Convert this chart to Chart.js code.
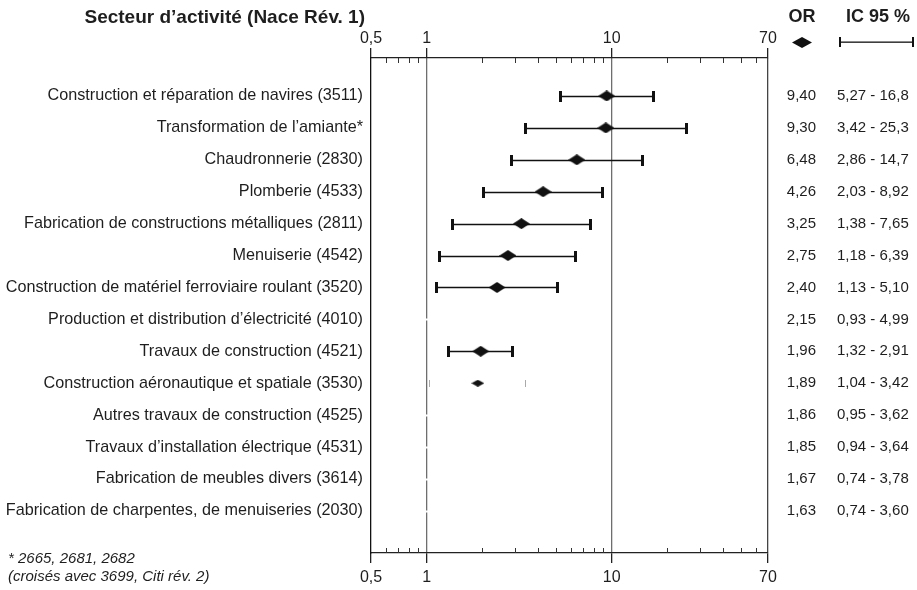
<!DOCTYPE html>
<html>
<head>
<meta charset="utf-8">
<script src="https://cdn.jsdelivr.net/npm/chart.js@4"></script>
<style>
  html, body { margin: 0; padding: 0; background: #fff; }
  #wrap { width: 917px; height: 590px; }
</style>
</head>
<body>
<div id="wrap"><canvas id="forestChart" width="917" height="590"></canvas></div>
<script>
// secteurs (Nace Rév. 1), du haut vers le bas
const sectors = [
  "Construction et réparation de navires (3511)",
  "Transformation de l\u2019amiante*",
  "Chaudronnerie (2830)",
  "Plomberie (4533)",
  "Fabrication de constructions métalliques (2811)",
  "Menuiserie (4542)",
  "Construction de matériel ferroviaire roulant (3520)",
  "Production et distribution d\u2019électricité (4010)",
  "Travaux de construction (4521)",
  "Construction aéronautique et spatiale (3530)",
  "Autres travaux de construction (4525)",
  "Travaux d\u2019installation électrique (4531)",
  "Fabrication de meubles divers (3614)",
  "Fabrication de charpentes, de menuiseries (2030)"
];
const oddsRatio = [9.40, 9.30, 6.48, 4.26, 3.25, 2.75, 2.40, 2.15, 1.96, 1.89, 1.86, 1.85, 1.67, 1.63];
const ciLow = [5.27, 3.42, 2.86, 2.03, 1.38, 1.18, 1.13, 0.93, 1.32, 1.04, 0.95, 0.94, 0.74, 0.74];
const ciHigh = [16.8, 25.3, 14.7, 8.92, 7.65, 6.39, 5.10, 4.99, 2.91, 3.42, 3.62, 3.64, 3.78, 3.60];
// comment chaque ligne apparait dans l'original : trait plein, trait fin, ou blanc
const rowStyle = ["full", "full", "full", "full", "full", "full", "full", "none", "full", "faint", "none", "none", "none", "none"];

const xMajorTicks = [0.5, 1, 10, 70];
const xMinorTicks = [0.6, 0.7, 0.8, 0.9, 2, 3, 4, 5, 6, 7, 8, 9, 20, 30, 40, 50, 60];

const FONT = "'Liberation Sans', Arial, Helvetica, sans-serif";
const INK = "#1e1e1e";

function fmt(v) {
  return (v >= 10 ? v.toFixed(1) : v.toFixed(2)).replace(".", ",");
}

// losange plus large que haut
function makeDiamond(w, h, color) {
  const c = document.createElement("canvas");
  c.width = w;
  c.height = h;
  const g = c.getContext("2d");
  g.fillStyle = color;
  g.beginPath();
  g.moveTo(w / 2, 0);
  g.lineTo(w, h / 2);
  g.lineTo(w / 2, h);
  g.lineTo(0, h / 2);
  g.closePath();
  g.fill();
  return c;
}
const bigDiamond = makeDiamond(17, 11, "#111");
const smallDiamond = makeDiamond(13, 7, "#111");

function logTicks(scale) {
  scale.ticks = xMajorTicks.concat(xMinorTicks)
    .sort((a, b) => a - b)
    .map((v) => ({ value: v, major: xMajorTicks.includes(v) }));
}
function tickText(value) {
  return xMajorTicks.includes(value) ? String(value).replace(".", ",") : "";
}

function drawCap(ctx, x, y, h, w, color) {
  ctx.fillStyle = color;
  ctx.fillRect(Math.round(x - w / 2), Math.round(y - h / 2), w, h);
}

// intervalles de confiance
const ciPlugin = {
  id: "ciBars",
  beforeDatasetsDraw(chart) {
    const { ctx, scales } = chart;
    ctx.save();
    oddsRatio.forEach((or, i) => {
      const y = Math.round(scales.y.getPixelForValue(i)) + 0.5;
      const x1 = scales.x.getPixelForValue(ciLow[i]);
      const x2 = scales.x.getPixelForValue(ciHigh[i]);
      const st = rowStyle[i];
      if (st === "full") {
        ctx.strokeStyle = "#111";
        ctx.lineWidth = 1.3;
        ctx.beginPath();
        ctx.moveTo(x1, y);
        ctx.lineTo(x2, y);
        ctx.stroke();
        drawCap(ctx, x1, y, 11, 3, "#111");
        drawCap(ctx, x2, y, 11, 3, "#111");
      } else if (st === "faint") {
        drawCap(ctx, x1, y, 7, 1, "#aaa");
        drawCap(ctx, x2, y, 7, 1, "#aaa");
      } else {
        // trait blanc : ne se voit que sur la ligne verticale de 1
        ctx.strokeStyle = "#fff";
        ctx.lineWidth = 2;
        ctx.beginPath();
        ctx.moveTo(x1, y);
        ctx.lineTo(x2, y);
        ctx.stroke();
      }
    });
    ctx.restore();
  }
};

// petites graduations vers l'interieur + textes autour du graphe
const decorPlugin = {
  id: "decor",
  afterDraw(chart) {
    const { ctx, scales, chartArea } = chart;
    ctx.save();
    ctx.strokeStyle = "#333";
    ctx.lineWidth = 1;
    xMinorTicks.forEach((v) => {
      const x = Math.round(scales.x.getPixelForValue(v)) + 0.5;
      ctx.beginPath();
      ctx.moveTo(x, chartArea.top);
      ctx.lineTo(x, chartArea.top + 5);
      ctx.moveTo(x, chartArea.bottom);
      ctx.lineTo(x, chartArea.bottom - 5);
      ctx.stroke();
    });

    ctx.fillStyle = INK;
    ctx.textBaseline = "middle";

    // titres
    ctx.font = "bold 19px " + FONT;
    ctx.textAlign = "right";
    ctx.fillText("Secteur d\u2019activité (Nace Rév. 1)", 365, 18);
    ctx.font = "bold 18px " + FONT;
    ctx.textAlign = "center";
    ctx.fillText("OR", 802, 17);
    ctx.fillText("IC 95 %", 878, 17);

    // légende
    ctx.drawImage(makeDiamond(20, 11, "#111"), 792, 37);
    ctx.fillStyle = "#111";
    ctx.fillRect(840, 41.5, 73, 1.3);
    drawCap(ctx, 840, 42, 10, 2, "#111");
    drawCap(ctx, 913, 42, 10, 2, "#111");

    // valeurs OR et IC
    ctx.fillStyle = INK;
    ctx.font = "15px " + FONT;
    oddsRatio.forEach((or, i) => {
      const y = scales.y.getPixelForValue(i);
      ctx.textAlign = "right";
      ctx.fillText(fmt(or), 816, y);
      ctx.textAlign = "left";
      ctx.fillText(fmt(ciLow[i]) + " - " + fmt(ciHigh[i]), 837, y);
    });

    // note
    ctx.font = "italic 15px " + FONT;
    ctx.textAlign = "left";
    ctx.fillText("* 2665, 2681, 2682", 8, 559);
    ctx.fillText("(croisés avec 3699, Citi rév. 2)", 8, 577);
    ctx.restore();
  }
};

const gridColor = (c) => {
  const v = c.tick && c.tick.value;
  if (v === 1 || v === 10) return "#6e6e6e";
  if (v === 70) return "#444";
  return "rgba(0,0,0,0)";
};
const tickColor = (c) => (c.tick && c.tick.major ? "#222" : "rgba(0,0,0,0)");

const ctx = document.getElementById("forestChart").getContext("2d");
const forestChart = new Chart(ctx, {
  type: "scatter",
  data: {
    datasets: [
      {
        label: "OR",
        data: oddsRatio.map((v, i) => ({ x: v, y: i })),
        pointStyle: (c) => (rowStyle[c.dataIndex] === "faint" ? smallDiamond : bigDiamond),
        pointRadius: (c) => (rowStyle[c.dataIndex] === "none" ? 0 : 6),
        pointHoverRadius: (c) => (rowStyle[c.dataIndex] === "none" ? 0 : 6),
        xAxisID: "x",
        yAxisID: "y"
      }
    ]
  },
  options: {
    responsive: false,
    animation: false,
    devicePixelRatio: 1,
    layout: { padding: { left: 0, top: 0, right: 149, bottom: 0 } },
    plugins: {
      legend: { display: false },
      tooltip: { enabled: false }
    },
    scales: {
      x: {
        type: "logarithmic",
        position: "bottom",
        min: 0.5,
        max: 70,
        afterBuildTicks: logTicks,
        afterFit: (s) => { s.height = 37; },
        grid: { color: gridColor, tickColor: tickColor, tickLength: 10, lineWidth: 1.3 },
        border: { color: "#222", width: 1.3 },
        ticks: {
          autoSkip: false,
          maxRotation: 0,
          padding: 5,
          color: INK,
          font: { size: 16, family: FONT },
          callback: tickText
        }
      },
      x2: {
        type: "logarithmic",
        position: "top",
        min: 0.5,
        max: 70,
        afterBuildTicks: logTicks,
        afterFit: (s) => { s.height = 58; },
        grid: { drawOnChartArea: false, tickColor: tickColor, tickLength: 10, lineWidth: 1.3 },
        border: { color: "#222", width: 1.3 },
        ticks: {
          autoSkip: false,
          maxRotation: 0,
          padding: 0,
          color: INK,
          font: { size: 16, family: FONT },
          callback: tickText
        }
      },
      y: {
        type: "linear",
        reverse: true,
        min: -1.19,
        max: 14.32,
        afterBuildTicks: (s) => { s.ticks = sectors.map((_, i) => ({ value: i })); },
        afterFit: (s) => { s.width = 371; },
        grid: { display: false, drawTicks: false },
        border: { display: true, color: "#111", width: 1.3 },
        ticks: {
          autoSkip: false,
          padding: 8,
          color: INK,
          font: { size: 16.2, family: FONT },
          callback: (v) => sectors[v] || ""
        }
      }
    }
  },
  plugins: [ciPlugin, decorPlugin]
});
</script>
</body>
</html>
